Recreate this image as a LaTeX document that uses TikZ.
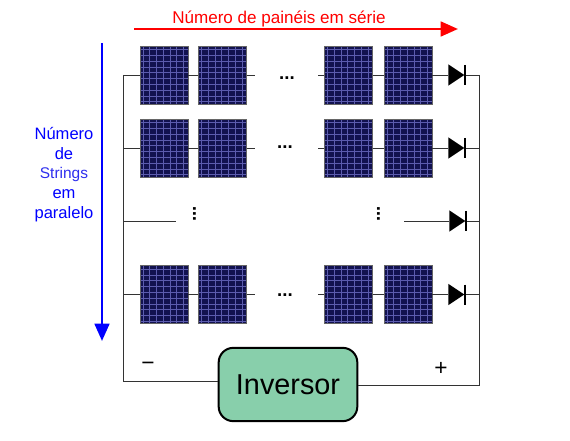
\documentclass[tikz,border=0pt]{standalone}
\usepackage{fontspec}
\setmainfont{Liberation Sans}
\usetikzlibrary{arrows.meta}
\usetikzlibrary{calc}
\usetikzlibrary{shapes.geometric}
\definecolor{panelblue}{HTML}{12124F}
\definecolor{panelgrid}{HTML}{5C5CAE}
\definecolor{invgreen}{HTML}{88CFAB}
\definecolor{stringblue}{HTML}{2E2EEE}

\begin{document}
\begin{tikzpicture}[
	x=0.75pt, y=-0.75pt,
	wire/.style = {draw=black!80, line width=0.7pt},
	panel/.style = {draw=black!60, fill=panelblue, line width=0.6pt, inner sep=0pt,
		minimum width=36pt, minimum height=43.5pt,
		path picture={
			\foreach \f in {0.06,0.2,0.34,0.48,0.62,0.76,0.9}
				\draw[panelgrid, line width=0.3pt]
					($(path picture bounding box.north west)!\f!(path picture bounding box.north east)$) --
					($(path picture bounding box.south west)!\f!(path picture bounding box.south east)$);
			\foreach \f in {0.06,0.16,0.26,0.36,0.46,0.56,0.66,0.76,0.86,0.96}
				\draw[panelgrid, line width=0.3pt]
					($(path picture bounding box.north west)!\f!(path picture bounding box.south west)$) --
					($(path picture bounding box.north east)!\f!(path picture bounding box.south east)$);
		}},
	diode/.style = {isosceles triangle, isosceles triangle stretches, fill=black, inner sep=0pt,
		minimum width=16pt, minimum height=12pt},
	dots/.style = {font=\bfseries\fontsize{14}{14}\selectfont, inner sep=0pt},
	bigarrow/.style = {line width=2pt, -{Triangle[length=13pt,width=11pt]}}
	]
	\useasboundingbox (0,0) rectangle (570,441);

	% arrows and their labels
	\coordinate (redstart) at (134,29);
	\coordinate (redend) at (458,29);
	\coordinate (bluestart) at (102,43);
	\coordinate (blueend) at (102,341);
	\draw[bigarrow, red] (redstart) -- (redend);
	\draw[bigarrow, blue] (bluestart) -- (blueend);
	\node[red, font=\fontsize{12.8}{14}\selectfont, inner sep=0pt] (lblserie) at (279,18.5) {Número de painéis em série};
	\node[blue, align=center, font=\fontsize{12.4}{14.8}\selectfont, inner sep=0pt] (lblstrings) at (64,174.5)
		{Número\\de\\{\color{stringblue}\fontsize{11.6}{14.8}\selectfont Strings}\\em\\paralelo};

	% panels, one string per row
	\foreach \r/\y in {1/75,2/148,4/294.5} {
		\node[panel] (p\r a) at (164,\y) {};
		\node[panel] (p\r b) at (222.5,\y) {};
		\node[panel] (p\r c) at (348.5,\y) {};
		\node[panel] (p\r d) at (408,\y) {};
		\coordinate (s\r) at (255,\y);
		\coordinate (t\r) at (318,\y);
		\coordinate (l\r) at (123,\y);
		\coordinate (r\r) at (479.5,\y);
		\node[diode] (d\r) at (454,\y) {};
		\draw[wire] (l\r) -- (p\r a);
		\draw[wire] (p\r a) -- (p\r b);
		\draw[wire] (p\r b) -- (s\r);
		\draw[wire] (t\r) -- (p\r c);
		\draw[wire] (p\r c) -- (p\r d);
		\draw[wire] (p\r d) -- (d\r);
		\draw[wire] (d\r) -- (r\r);
		\draw[line width=1pt] ($(d\r.apex)+(0,-10)$) -- ($(d\r.apex)+(0,10)$);
	}

	% third row only has stubs
	\coordinate (l3) at (123,221);
	\coordinate (s3) at (176,221);
	\coordinate (t3) at (404,221);
	\coordinate (r3) at (479.5,221);
	\node[diode] (d3) at (455,221) {};
	\draw[wire] (l3) -- (s3);
	\draw[wire] (t3) -- (d3);
	\draw[wire] (d3) -- (r3);
	\draw[line width=1pt] ($(d3.apex)+(0,-10)$) -- ($(d3.apex)+(0,10)$);

	% dots
	\node[dots] (dots1) at (287,78) {...};
	\node[dots] (dots2) at (285,147) {...};
	\node[dots] (dots4) at (285,295) {...};
	\node[dots, rotate=90] (dotsl) at (194.5,214) {...};
	\node[dots, rotate=90] (dotsr) at (378.5,214) {...};

	% inverter and bus
	\node[draw, line width=1.5pt, fill=invgreen, rounded corners=11pt, minimum width=104pt, minimum height=55pt,
		inner sep=0pt, font=\fontsize{21.6}{22}\selectfont] (inv) at (288,384.5) {Inversor};
	\coordinate (lb) at (123,381);
	\coordinate (rb) at (479.5,385);
	\draw[wire] (l1) -- (lb) -- (lb -| inv.west);
	\draw[wire] (r1) -- (rb) -- (rb -| inv.east);
	\node[font=\fontsize{17}{17}\selectfont, inner sep=0pt] (neg) at (148,366) {\textminus};
	\node[font=\fontsize{17}{17}\selectfont, inner sep=0pt] (pos) at (441,368.5) {+};
\end{tikzpicture}
\end{document}
